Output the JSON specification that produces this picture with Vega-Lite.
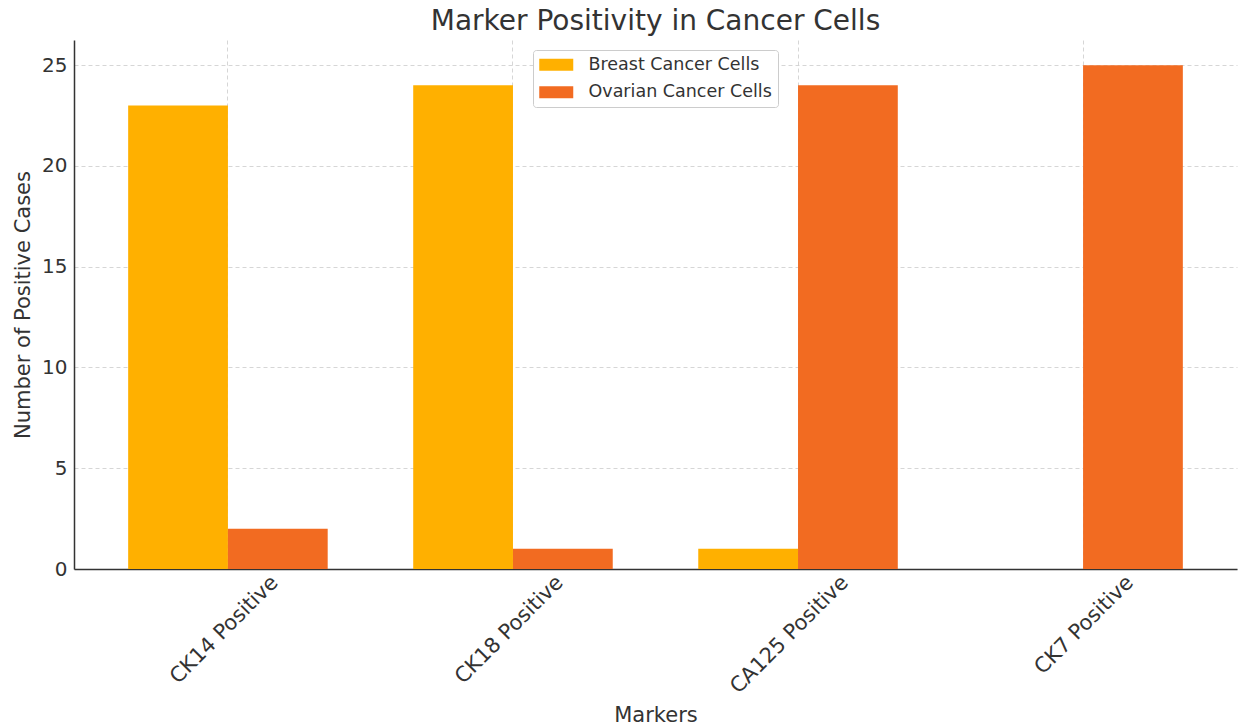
{
  "$schema": "https://vega.github.io/schema/vega-lite/v6.json",
  "width": 1163,
  "height": 529,
  "autosize": "none",
  "padding": {"left": 74, "top": 40, "right": 1, "bottom": 158},
  "background": "white",
  "config": {
    "font": "DejaVu Sans",
    "view": {"stroke": null},
    "axis": {"labelColor": "#333333", "titleColor": "#333333", "domainColor": "#333333", "tickColor": "#333333", "domainWidth": 1.5, "labelFontSize": 20, "titleFontSize": 21, "titleFontWeight": "normal", "gridColor": "#cccccc", "gridDash": [4, 3], "gridWidth": 0.8}
  },
  "title": {"text": "Marker Positivity in Cancer Cells", "fontSize": 28, "fontWeight": "normal", "color": "#333333", "anchor": "middle", "offset": 4},
  "data": {
    "values": [
      {"marker": "CK14 Positive", "group": "Breast Cancer Cells", "cases": 23},
      {"marker": "CK14 Positive", "group": "Ovarian Cancer Cells", "cases": 2},
      {"marker": "CK18 Positive", "group": "Breast Cancer Cells", "cases": 24},
      {"marker": "CK18 Positive", "group": "Ovarian Cancer Cells", "cases": 1},
      {"marker": "CA125 Positive", "group": "Breast Cancer Cells", "cases": 1},
      {"marker": "CA125 Positive", "group": "Ovarian Cancer Cells", "cases": 24},
      {"marker": "CK7 Positive", "group": "Breast Cancer Cells", "cases": 0},
      {"marker": "CK7 Positive", "group": "Ovarian Cancer Cells", "cases": 25}
    ]
  },
  "mark": {"type": "bar"},
  "encoding": {
    "x": {
      "field": "marker", "type": "nominal", "sort": null,
      "scale": {"paddingInner": 0.3, "paddingOuter": 0.19},
      "axis": {"title": "Markers", "labelAngle": -45, "labelAlign": "right", "labelBaseline": "middle", "labelOffset": 47, "labelPadding": 10, "labelFontSize": 21, "tickSize": 0, "grid": true, "bandPosition": 0.5, "titlePadding": 8}
    },
    "xOffset": {"field": "group", "type": "nominal", "sort": null, "scale": {"paddingInner": 0, "paddingOuter": 0}},
    "y": {
      "field": "cases", "type": "quantitative",
      "scale": {"domain": [0, 26.25], "nice": false},
      "axis": {"title": "Number of Positive Cases", "values": [0, 5, 10, 15, 20, 25], "tickSize": 0, "labelPadding": 7, "titlePadding": 8}
    },
    "color": {
      "field": "group", "type": "nominal", "sort": null,
      "scale": {"domain": ["Breast Cancer Cells", "Ovarian Cancer Cells"], "range": ["#FFB000", "#F26B21"]},
      "legend": {"title": null, "orient": "none", "legendX": 459, "legendY": 10, "fillColor": "white", "strokeColor": "#cccccc", "cornerRadius": 3, "padding": 6, "rowPadding": 8.5, "labelFontSize": 17.5, "labelColor": "#333333", "labelOffset": 32, "labelLimit": 400, "symbolType": "M-1,-0.7H3V0.7H-1Z", "symbolSize": 289, "symbolStrokeWidth": 0, "symbolOpacity": 1}
    }
  }
}
